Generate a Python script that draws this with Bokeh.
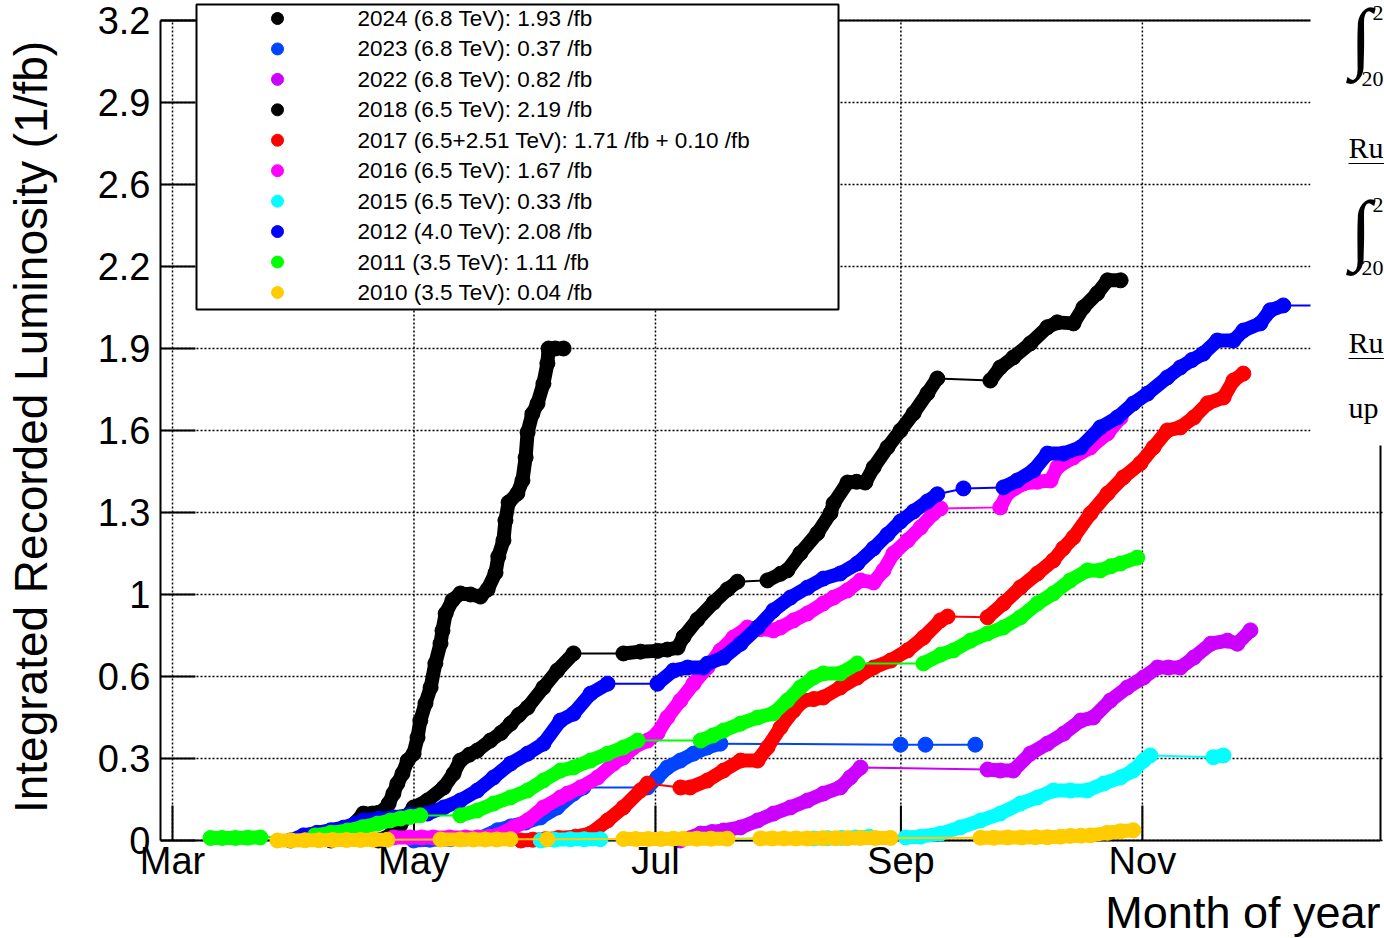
from bokeh.plotting import figure
from bokeh.models import Range1d, FixedTicker, Label, Title
from bokeh.core.properties import value
from bokeh.embed import file_html
from bokeh.resources import INLINE

# ---------------- data (x = days since 1 March, y = integrated lumi in 1/fb) -------------
month_ticks = [0, 61, 122, 184, 245]
month_labels = ["Mar", "May", "Jul", "Sep", "Nov"]
lumi_ticks = [0, 0.32, 0.64, 0.96, 1.28, 1.6, 1.92, 2.24, 2.56, 2.88, 3.2]
lumi_labels = ["0", "0.3", "0.6", "1", "1.3", "1.6", "1.9", "2.2", "2.6", "2.9", "3.2"]

legend_labels = [
    "2024 (6.8 TeV): 1.93 /fb",
    "2023 (6.8 TeV): 0.37 /fb",
    "2022 (6.8 TeV): 0.82 /fb",
    "2018 (6.5 TeV): 2.19 /fb",
    "2017 (6.5+2.51 TeV): 1.71 /fb + 0.10 /fb",
    "2016 (6.5 TeV): 1.67 /fb",
    "2015 (6.5 TeV): 0.33 /fb",
    "2012 (4.0 TeV): 2.08 /fb",
    "2011 (3.5 TeV): 1.11 /fb",
    "2010 (3.5 TeV): 0.04 /fb",
]
series_colors = ["#000000", "#0044ff", "#cc00ff", "#000000", "#ff0000",
                 "#ff00ff", "#00ffff", "#0000ff", "#00ff00", "#ffcc00"]

day_2024 = [40.0, 42.5, 45.0, 48.2, 50.5, 53.3, 54.6, 55.8, 56.8, 58.1, 59.4, 60.9, 61.9, 62.6,
            63.9, 65.2, 66.4, 67.7, 68.2, 69.0, 70.7, 72.7, 75.3, 77.8, 79.6, 81.6, 82.3, 83.6,
            84.1, 84.9, 87.1, 88.4, 89.2, 89.7, 90.9, 92.2, 93.7, 94.7, 95.0, 96.7, 98.8]
lumi_2024 = [0.0, 0.02, 0.05, 0.105, 0.105, 0.117, 0.144, 0.183, 0.222, 0.261, 0.312, 0.339, 0.402,
             0.468, 0.535, 0.597, 0.691, 0.769, 0.819, 0.886, 0.937, 0.964, 0.960, 0.952, 0.980,
             1.045, 1.108, 1.171, 1.249, 1.319, 1.354, 1.405, 1.495, 1.593, 1.665, 1.705, 1.783,
             1.862, 1.920, 1.920, 1.920]

day_2023 = [60.9, 65.0, 70.2, 74.0, 77.8, 82.1, 85.4, 89.2, 93.0, 97.2, 101.3, 103.8,
            120.0, 122.5, 125.0, 128.3, 131.6, 135.1, 138.4, 183.9, 190.2, 202.8]
lumi_2023 = [0.0, 0.003, 0.005, 0.008, 0.01, 0.04, 0.055, 0.07, 0.090, 0.129, 0.183, 0.207,
             0.207, 0.246, 0.285, 0.312, 0.339, 0.363, 0.378, 0.374, 0.374, 0.374]

day_2022 = [128.3, 133.4, 136.3, 139.2, 143.5, 147.8, 151.8, 156.1, 160.4, 164.4, 168.7, 171.2,
            173.8, 205.9, 209.1, 212.4, 216.7, 221.0, 225.1, 229.4, 232.6, 236.9, 241.2, 245.3,
            248.8, 251.6, 254.6, 258.0, 262.3, 266.5, 269.0, 272.3]
lumi_2022 = [0.0, 0.027, 0.033, 0.039, 0.051, 0.078, 0.105, 0.129, 0.156, 0.183, 0.207, 0.246,
             0.285, 0.277, 0.273, 0.273, 0.339, 0.378, 0.417, 0.468, 0.480, 0.546, 0.597, 0.636,
             0.675, 0.675, 0.675, 0.714, 0.768, 0.780, 0.768, 0.820]

day_2018 = [52.0, 55.0, 57.5, 60.9, 64.4, 68.5, 71.0, 72.7, 75.0, 77.0, 80.3, 83.0, 85.4, 87.5,
            89.7, 93.7, 97.2, 101.3, 113.9, 118.2, 122.5, 125.0, 127.6, 129.1, 132.6, 136.7,
            140.2, 142.7, 150.3, 153.6, 155.3, 158.6, 162.9, 166.2, 167.0, 170.5, 172.8, 175.0,
            177.1, 180.6, 183.9, 187.2, 190.7, 193.2, 206.6, 209.1, 212.4, 216.7, 221.0, 223.5,
            227.6, 230.1, 233.6, 236.2, 239.5]
lumi_2018 = [0.0, 0.02, 0.06, 0.129, 0.156, 0.207, 0.261, 0.312, 0.335, 0.351, 0.390, 0.420,
             0.456, 0.490, 0.519, 0.597, 0.663, 0.730, 0.730, 0.737, 0.740, 0.745, 0.753, 0.795,
             0.862, 0.929, 0.980, 1.010, 1.015, 1.041, 1.054, 1.121, 1.199, 1.277, 1.316, 1.397,
             1.400, 1.397, 1.456, 1.534, 1.600, 1.667, 1.745, 1.803, 1.795, 1.846, 1.885, 1.940,
             2.003, 2.022, 2.018, 2.080, 2.135, 2.186, 2.186]

day_2017 = [88.0, 91.0, 94.2, 97.5, 101.8, 105.6, 109.9, 113.9, 118.2, 120.0, 128.3, 130.8,
            135.1, 139.2, 143.5, 147.8, 150.3, 153.6, 156.9, 159.4, 162.0, 164.4, 168.7, 173.0,
            177.1, 181.4, 185.7, 189.7, 194.0, 195.8, 205.9, 209.9, 214.2, 218.5, 222.5, 225.0,
            227.6, 231.9, 236.2, 240.2, 244.5, 247.8, 251.3, 254.6, 258.0, 261.5, 265.5, 268.0,
            270.5]
lumi_2017 = [0.0, 0.003, 0.005, 0.01, 0.015, 0.027, 0.078, 0.129, 0.195, 0.222, 0.207, 0.207,
             0.234, 0.273, 0.312, 0.312, 0.363, 0.441, 0.507, 0.546, 0.552, 0.558, 0.597, 0.636,
             0.675, 0.702, 0.742, 0.792, 0.859, 0.874, 0.871, 0.925, 0.988, 1.042, 1.093, 1.140,
             1.183, 1.276, 1.354, 1.417, 1.472, 1.534, 1.600, 1.612, 1.651, 1.706, 1.729, 1.795,
             1.822]

day_2016 = [55.8, 60.0, 63.0, 65.9, 70.0, 74.0, 77.0, 80.0, 82.1, 86.1, 89.7, 93.7, 98.0, 99.8,
            103.1, 107.4, 111.4, 113.9, 116.4, 120.0, 122.5, 125.0, 128.3, 131.6, 135.1, 138.4,
            141.7, 145.2, 148.5, 151.8, 153.6, 156.9, 160.4, 164.4, 167.0, 170.5, 173.8, 177.1,
            179.6, 182.1, 185.7, 189.0, 192.2, 194.0, 209.1, 210.9, 214.9, 218.5, 221.8, 223.5,
            227.6, 231.9, 236.2, 239.5]
lumi_2016 = [0.012, 0.012, 0.012, 0.012, 0.012, 0.012, 0.012, 0.015, 0.02, 0.051, 0.078, 0.129,
             0.168, 0.183, 0.207, 0.246, 0.300, 0.324, 0.363, 0.390, 0.418, 0.480, 0.546, 0.612,
             0.675, 0.741, 0.792, 0.831, 0.825, 0.820, 0.831, 0.859, 0.886, 0.925, 0.948, 0.976,
             1.015, 1.007, 1.054, 1.120, 1.171, 1.222, 1.276, 1.296, 1.300, 1.354, 1.393, 1.400,
             1.405, 1.456, 1.495, 1.534, 1.589, 1.650]

day_2015 = [93.0, 96.5, 100.5, 104.0, 108.1, 162.0, 165.5, 169.0, 172.5, 176.0, 185.2, 189.0,
            194.0, 199.0, 204.1, 209.1, 214.2, 218.5, 222.5, 226.8, 231.1, 235.2, 239.5, 242.7,
            245.3, 247.0, 262.9, 265.5]
lumi_2015 = [0.0, 0.003, 0.005, 0.005, 0.005, 0.008, 0.009, 0.010, 0.012, 0.015, 0.012, 0.015,
             0.027, 0.051, 0.078, 0.105, 0.144, 0.168, 0.195, 0.195, 0.195, 0.222, 0.246, 0.273,
             0.312, 0.332, 0.325, 0.332]

day_2012 = [29.8, 33.1, 36.5, 40.0, 43.2, 46.0, 48.2, 52.0, 56.0, 60.0, 64.4, 68.5, 72.7, 77.0,
            81.1, 85.4, 89.7, 93.7, 98.0, 101.3, 105.6, 109.9, 122.5, 126.5, 130.1, 134.1, 135.1,
            139.2, 143.5, 147.8, 151.8, 156.1, 160.4, 164.4, 168.7, 173.0, 177.1, 180.6, 183.9,
            187.2, 190.7, 193.2, 199.8, 209.9, 213.4, 217.5, 221.0, 225.1, 229.4, 234.4, 238.7,
            242.7, 246.3, 251.3, 254.6, 257.5, 260.4, 263.9, 268.0, 270.5, 274.8, 277.3, 280.6,
            302.0]
lumi_2012 = [0.0, 0.02, 0.03, 0.04, 0.05, 0.065, 0.078, 0.085, 0.09, 0.10, 0.105, 0.129, 0.156,
             0.195, 0.246, 0.300, 0.339, 0.378, 0.468, 0.495, 0.573, 0.612, 0.612, 0.663, 0.675,
             0.675, 0.690, 0.714, 0.768, 0.831, 0.898, 0.948, 0.987, 1.022, 1.042, 1.081, 1.140,
             1.194, 1.245, 1.284, 1.323, 1.351, 1.374, 1.378, 1.405, 1.444, 1.510, 1.510, 1.534,
             1.612, 1.651, 1.705, 1.744, 1.807, 1.846, 1.875, 1.900, 1.951, 1.951, 1.990, 2.018,
             2.069, 2.088, 2.088]

day_2011 = [9.6, 12.5, 15.9, 19.0, 22.2, 36.0, 40.0, 44.2, 48.0, 51.8, 55.0, 57.6, 60.0, 62.6,
            72.7, 77.0, 81.1, 85.4, 89.7, 93.7, 98.0, 101.3, 105.6, 109.9, 113.9, 117.5, 133.4,
            136.5, 139.2, 143.5, 147.8, 151.8, 155.3, 158.6, 161.9, 164.4, 168.7, 173.0, 189.7,
            194.0, 197.3, 201.6, 205.9, 209.9, 214.2, 218.5, 222.5, 226.8, 231.1, 234.4, 237.0,
            239.5, 243.7]
lumi_2011 = [0.010, 0.010, 0.010, 0.011, 0.012, 0.020, 0.030, 0.039, 0.052, 0.066, 0.078, 0.086,
             0.092, 0.098, 0.098, 0.117, 0.144, 0.168, 0.195, 0.234, 0.273, 0.285, 0.312, 0.339,
             0.363, 0.390, 0.390, 0.410, 0.429, 0.456, 0.480, 0.496, 0.546, 0.597, 0.636, 0.652,
             0.652, 0.691, 0.691, 0.725, 0.742, 0.780, 0.808, 0.831, 0.871, 0.925, 0.964, 1.015,
             1.054, 1.054, 1.070, 1.081, 1.104]

day_2010 = [26.5, 30.0, 33.5, 37.0, 40.5, 44.0, 47.5, 50.8, 54.3, 67.7, 72.7, 76.0, 79.0, 82.0,
            85.4, 94.7, 113.9, 117.0, 120.2, 123.4, 126.5, 129.1, 132.5, 136.0, 140.2, 148.5,
            151.5, 154.5, 157.5, 160.4, 164.4, 167.5, 170.5, 173.8, 177.5, 181.4, 204.1, 207.5,
            211.0, 214.5, 218.0, 221.0, 224.3, 226.8, 229.5, 231.9, 236.2, 239.5, 242.7]
lumi_2010 = [0.0, 0.0, 0.001, 0.001, 0.002, 0.002, 0.002, 0.003, 0.003, 0.004, 0.004, 0.004,
             0.004, 0.004, 0.005, 0.005, 0.006, 0.006, 0.006, 0.006, 0.007, 0.007, 0.007, 0.007,
             0.007, 0.008, 0.008, 0.008, 0.008, 0.008, 0.009, 0.009, 0.009, 0.010, 0.010, 0.010,
             0.011, 0.011, 0.012, 0.012, 0.013, 0.013, 0.015, 0.018, 0.019, 0.020, 0.030, 0.036,
             0.040]

series_days = [day_2024, day_2023, day_2022, day_2018, day_2017,
               day_2016, day_2015, day_2012, day_2011, day_2010]
series_lumi = [lumi_2024, lumi_2023, lumi_2022, lumi_2018, lumi_2017,
               lumi_2016, lumi_2015, lumi_2012, lumi_2011, lumi_2010]

# ---------------- layout helpers (pixel -> data, for decorations only) ----------------
X0_PX, DAY_PX = 172.0, 3.9587      # 1 March position, px per day
Y0_PX, LUMI_PX = 840.0, 256.25      # zero position, px per 1/fb


def px2x(px):
    return (px - X0_PX) / DAY_PX


def py2y(py):
    return (Y0_PX - py) / LUMI_PX


FONT = "Liberation Sans"
SERIF = "Liberation Serif"

p = figure(width=1384, height=938, output_backend="svg", toolbar_location=None,
           x_range=Range1d(px2x(160), px2x(1384)), y_range=Range1d(py2y(852), py2y(1)),
           min_border_left=160, min_border_right=0, min_border_top=1, min_border_bottom=86)
p.title.visible = False
p.outline_line_color = None
p.background_fill_color = "white"
p.border_fill_color = "white"

# ---- y axis
yax = p.yaxis[0]
yax.ticker = FixedTicker(ticks=lumi_ticks)
yax.major_label_overrides = {t: l for t, l in zip(lumi_ticks, lumi_labels)}
yax.bounds = (0, 3.2)
yax.minor_tick_line_color = None
yax.major_tick_in = 35
yax.major_tick_out = 0
yax.major_tick_line_width = 2
yax.axis_line_width = 2
yax.axis_line_color = "black"
yax.major_tick_line_color = "black"
yax.major_label_standoff = 10
yax.major_label_text_font = FONT
yax.major_label_text_font_size = "38px"
yax.major_label_text_color = "black"
yax.axis_label = "Integrated Recorded Luminosity (1/fb)"
yax.axis_label_text_font = FONT
yax.axis_label_text_font_size = "46px"
yax.axis_label_text_font_style = "normal"
yax.axis_label_text_color = "black"
yax.axis_label_standoff = 38

# ---- x axis (line and ticks drawn at y = 0 below; labels from the axis)
xax = p.xaxis[0]
xax.ticker = FixedTicker(ticks=month_ticks)
xax.major_label_overrides = {t: l for t, l in zip(month_ticks, month_labels)}
xax.minor_tick_line_color = None
xax.major_tick_line_color = None
xax.axis_line_color = None
xax.major_label_standoff = -19
xax.major_label_text_font = FONT
xax.major_label_text_font_size = "38px"
xax.major_label_text_color = "black"

# x axis title, right aligned as in the original
p.add_layout(Title(text="Month of year", align="right", offset=4, standoff=0,
                   text_font=FONT, text_font_size="45px", text_font_style="normal",
                   text_color="black"), "below")

p.xgrid.visible = False
p.ygrid.grid_line_color = "black"
p.ygrid.grid_line_dash = "2 2"
p.ygrid.grid_line_width = 1.5

x_left, x_right = px2x(160), px2x(1380)
tick_len = 35 / LUMI_PX

# vertical dotted grid lines at the month ticks
p.segment(x0=month_ticks, x1=month_ticks, y0=[0] * len(month_ticks), y1=[3.2] * len(month_ticks),
          line_color="black", line_dash="2 2", line_width=1.5)

# frame: bottom axis line, top and right edges, month ticks
p.segment(x0=[x_left, x_left, x_right], x1=[x_right, x_right, x_right],
          y0=[0, 3.2, 0], y1=[0, 3.2, 3.2], line_color="black", line_width=2)
p.segment(x0=month_ticks, x1=month_ticks, y0=[0] * len(month_ticks),
          y1=[tick_len] * len(month_ticks), line_color="black", line_width=2)


def runs(d, v, gap=5.5):
    xs, ys = [[d[0]]], [[v[0]]]
    for i in range(1, len(d)):
        if d[i] - d[i - 1] > gap:
            xs.append([])
            ys.append([])
        xs[-1].append(d[i])
        ys[-1].append(v[i])
    keep = [i for i in range(len(xs)) if len(xs[i]) > 1]
    return [xs[i] for i in keep], [ys[i] for i in keep]


for d, v, c in zip(series_days, series_lumi, series_colors):
    p.line(d, v, line_color=c, line_width=2)
    rx, ry = runs(d, v)
    p.multi_line(rx, ry, line_color=c, line_width=14, line_cap="round", line_join="round")
    p.scatter(d, v, size=15, fill_color=c, line_color=c)

# white text pave on the right
p.quad(left=[px2x(1310)], right=[px2x(1500)], bottom=[py2y(445)], top=[py2y(-50)],
       fill_color="white", line_color=None)

# legend box
p.quad(left=[px2x(196)], right=[px2x(838)], bottom=[py2y(309)], top=[py2y(4)],
       fill_color="white", line_color="black", line_width=2)
row_y = [py2y(18 + i * 30.44) for i in range(len(legend_labels))]
p.scatter(x=[px2x(277)] * len(legend_labels), y=row_y, size=12,
          fill_color=series_colors, line_color=series_colors)
p.text(x=[px2x(357)] * len(legend_labels), y=row_y, text=legend_labels,
       text_font=value(FONT), text_font_size="22.5px", text_baseline="middle",
       text_align="left", text_color="black")

# right-hand summary text (cut by the page edge in the original)
for (tx, ty, t, fs) in [(1350, 36, "\u222b", "78px"), (1372, 12, "2", "22px"),
                        (1361, 78, "20", "22px"), (1348, 147, "Ru", "30px"),
                        (1350, 228, "\u222b", "78px"), (1372, 204, "2", "22px"),
                        (1361, 267, "20", "22px"), (1348, 342, "Ru", "30px"),
                        (1348, 407, "up", "30px")]:
    p.add_layout(Label(x=px2x(tx), y=py2y(ty), text=t, text_align="left",
                       text_baseline="alphabetic", text_font=SERIF, text_font_size=fs,
                       text_color="black"))
p.segment(x0=[px2x(1348), px2x(1348)], x1=[px2x(1384), px2x(1384)],
          y0=[py2y(163), py2y(358)], y1=[py2y(163), py2y(358)], line_color="black", line_width=1)

open("out.html", "w").write(file_html(p, INLINE))
